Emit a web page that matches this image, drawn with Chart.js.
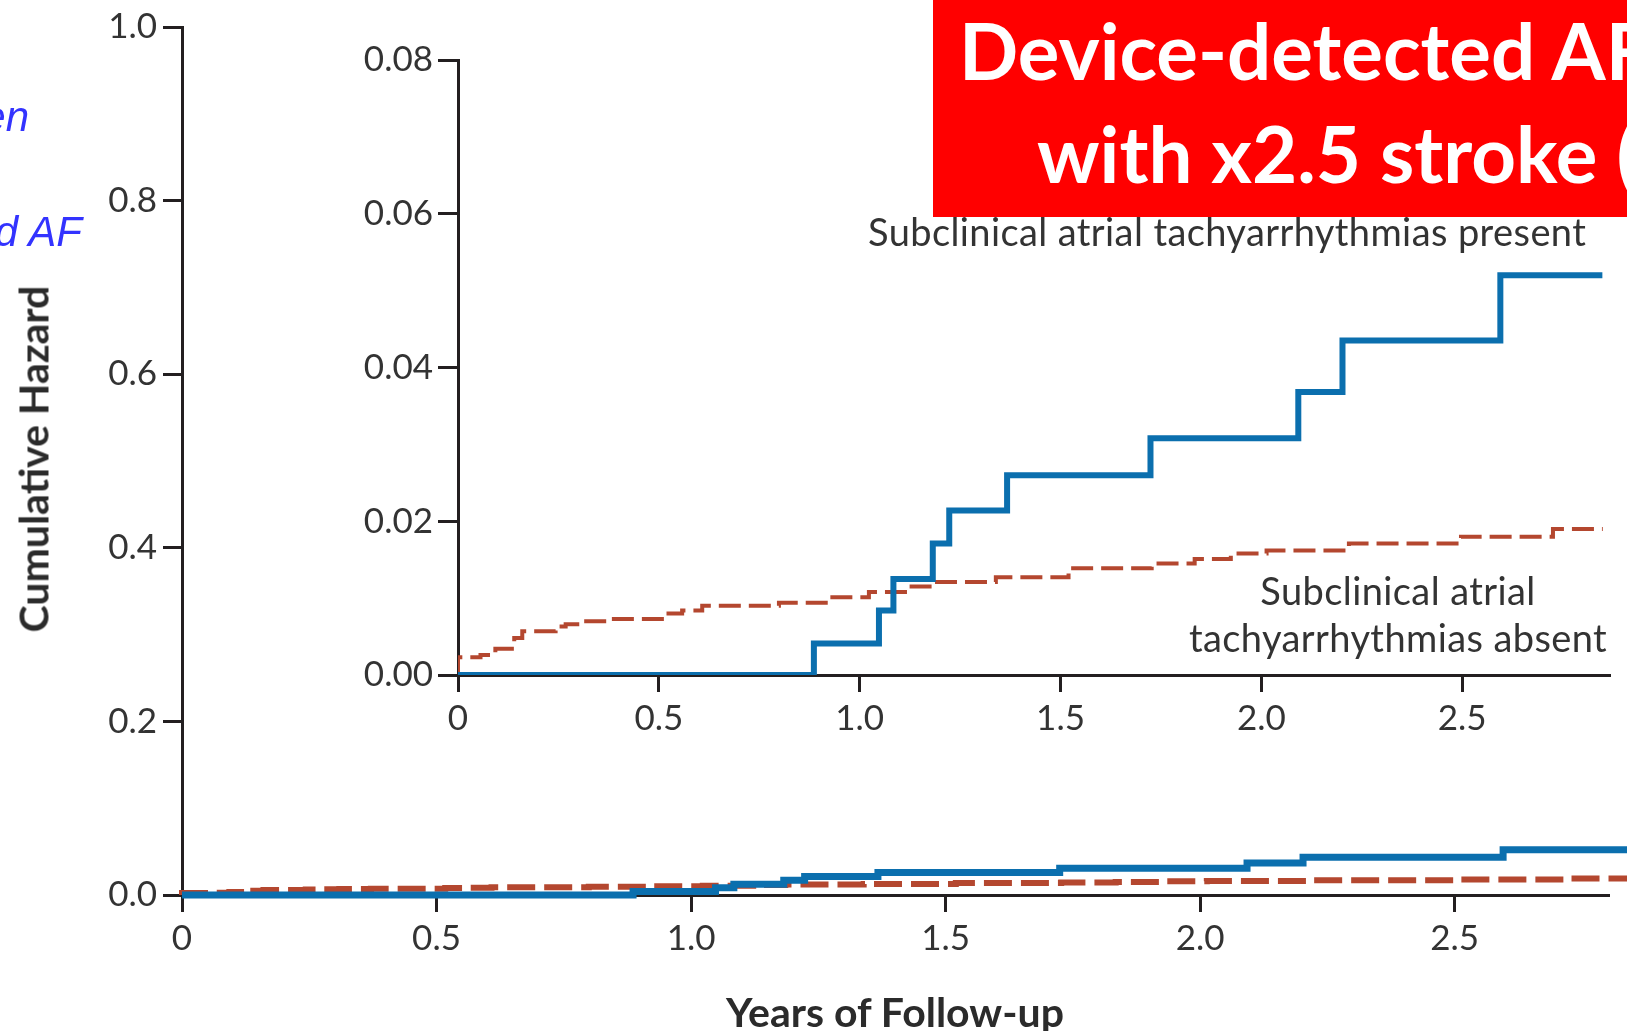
<!DOCTYPE html>
<html>
<head>
<meta charset="utf-8">
<title>Cumulative Hazard</title>
<script src="https://cdn.jsdelivr.net/npm/chart.js@4"></script>
<style>
  html, body { margin: 0; padding: 0; background: #fff; }
  body { width: 1627px; height: 1031px; position: relative; overflow: hidden; font-family: Lato, sans-serif; }
  canvas { position: absolute; }
  #mainChart { left: 0; top: 0; }
  #insetChart { left: 300px; top: 0; }
  .txt { position: absolute; white-space: nowrap; line-height: 1; color: #333; }
  .axis-title { font-weight: bold; font-size: 41px; color: #2b2b2b; }
  .note { font-size: 38px; letter-spacing: 0.4px; }
  .blue { font-family: "Liberation Sans", Arial, sans-serif; font-style: italic; font-size: 42px; color: #3333ff; text-align: right; }
  /* rode kader rechtsboven */
  .banner { position: absolute; left: 933px; top: 0; width: 694px; height: 217px; background: #ff0000; overflow: hidden; }
  .banner div { position: absolute; white-space: nowrap; line-height: 1; color: #fff; font-weight: bold; font-size: 78px; }
</style>
</head>
<body>
<canvas id="mainChart" width="1627" height="1031"></canvas>
<canvas id="insetChart" width="1327" height="780"></canvas>

<div class="txt blue" style="right:1598px; top:96px;">en</div>
<div class="txt blue" style="right:1545px; top:211px;">d AF</div>

<div class="txt axis-title" style="left:33px; top:459px; transform: translate(-50%, -50%) rotate(-90deg);">Cumulative Hazard</div>
<div class="txt axis-title" style="left:895px; top:991px; transform: translateX(-50%);">Years of Follow-up</div>

<div class="txt note" style="left:868px; top:212px;">Subclinical atrial tachyarrhythmias present</div>
<div class="txt note" style="left:1398px; top:571px; transform: translateX(-50%);">Subclinical atrial</div>
<div class="txt note" style="left:1398px; top:618px; transform: translateX(-50%);">tachyarrhythmias absent</div>

<div class="banner">
  <div style="left:26px; top:11px;">Device-detected AF</div>
  <div style="left:104px; top:114px;">with x2.5 stroke (</div>
</div>

<script>
  // as-ticks
  const xTicks = [0, 0.5, 1.0, 1.5, 2.0, 2.5];
  const xTickLabels = ['0', '0.5', '1.0', '1.5', '2.0', '2.5'];
  const mainYTicks = [0, 0.2, 0.4, 0.6, 0.8, 1.0];
  const mainYTickLabels = ['0.0', '0.2', '0.4', '0.6', '0.8', '1.0'];
  const insetYTicks = [0, 0.02, 0.04, 0.06, 0.08];
  const insetYTickLabels = ['0.00', '0.02', '0.04', '0.06', '0.08'];

  // subklinische atriale tachyaritmieen aanwezig (blauw)
  const presentYears = [0, 0.886, 1.048, 1.084, 1.182, 1.223, 1.367, 1.724, 2.092, 2.202, 2.595, 2.849];
  const presentHazard = [0, 0.0041, 0.0084, 0.0125, 0.0171, 0.0214, 0.0260, 0.0308, 0.0368, 0.0435, 0.0520, 0.0520];

  // afwezig (rood gestreept)
  const absentYears = [0, 0, 0.056, 0.093, 0.140, 0.160, 0.243, 0.268, 0.309, 0.371, 0.517, 0.558, 0.608, 0.799, 0.923,
    1.023, 1.122, 1.185, 1.339, 1.520, 1.727, 1.834, 1.924, 2.013, 2.218, 2.497, 2.726, 2.850];
  const absentHazard = [0, 0.0023, 0.0026, 0.0034, 0.0048, 0.0057, 0.0063, 0.0066, 0.0070, 0.0073, 0.0080, 0.0084, 0.0090, 0.0094, 0.0101,
    0.0108, 0.0115, 0.0121, 0.0127, 0.0139, 0.0145, 0.0151, 0.0158, 0.0162, 0.0171, 0.0180, 0.0190, 0.0190];

  const BLUE = '#0b6fae';
  const RED = '#b4472f';
  const INK = '#231f20';

  Chart.defaults.font.family = 'Lato';
  Chart.defaults.color = '#333';

  function points(xs, ys) {
    return xs.map((x, i) => ({ x: x, y: ys[i] }));
  }

  function axis(opts) {
    return {
      type: 'linear',
      min: opts.min,
      max: opts.max,
      afterBuildTicks: s => { s.ticks = opts.ticks.map(v => ({ value: v })); },
      afterFit: opts.fit,
      ticks: {
        callback: (v, i) => opts.labels[i],
        font: { size: 35 },
        color: '#333',
        padding: opts.pad
      },
      grid: { display: true, drawOnChartArea: false, drawTicks: true, tickLength: opts.tick, tickWidth: 3, tickColor: INK, color: INK },
      border: { display: true, color: INK, width: 3 }
    };
  }

  function makeChart(id, cfg) {
    return new Chart(document.getElementById(id), {
      type: 'line',
      data: {
        datasets: [
          { data: points(presentYears, presentHazard), borderColor: BLUE, borderWidth: cfg.blueWidth,
            stepped: true, pointRadius: 0, fill: false, clip: cfg.clip },
          { data: points(absentYears, absentHazard), borderColor: RED, borderWidth: cfg.redWidth,
            borderDash: cfg.dash, stepped: true, pointRadius: 0, fill: false, clip: cfg.clip }
        ]
      },
      options: {
        responsive: false,
        animation: false,
        events: [],
        layout: { padding: cfg.padding },
        plugins: { legend: { display: false }, tooltip: { enabled: false } },
        scales: { x: cfg.x, y: cfg.y }
      }
    });
  }

  // hoofdgrafiek
  makeChart('mainChart', {
    blueWidth: 7, redWidth: 6, dash: [28, 9], clip: false,
    padding: { top: 24, right: 18, left: 0, bottom: 0 },
    x: axis({ min: 0, max: 2.803, ticks: xTicks, labels: xTickLabels, tick: 17, pad: 6, fit: s => { s.height = 136; } }),
    y: axis({ min: 0, max: 1, ticks: mainYTicks, labels: mainYTickLabels, tick: 19, pad: 6, fit: s => { s.width = 182; } })
  });

  // inzet (vergroot)
  makeChart('insetChart', {
    blueWidth: 6, redWidth: 4, dash: [22, 8], clip: undefined,
    padding: { top: 60, right: 17, left: 0, bottom: 0 },
    x: axis({ min: 0, max: 2.868, ticks: xTicks, labels: xTickLabels, tick: 17, pad: 6, fit: s => { s.height = 105; } }),
    y: axis({ min: 0, max: 0.08, ticks: insetYTicks, labels: insetYTickLabels, tick: 20, pad: 5, fit: s => { s.width = 158; } })
  });
</script>
</body>
</html>
